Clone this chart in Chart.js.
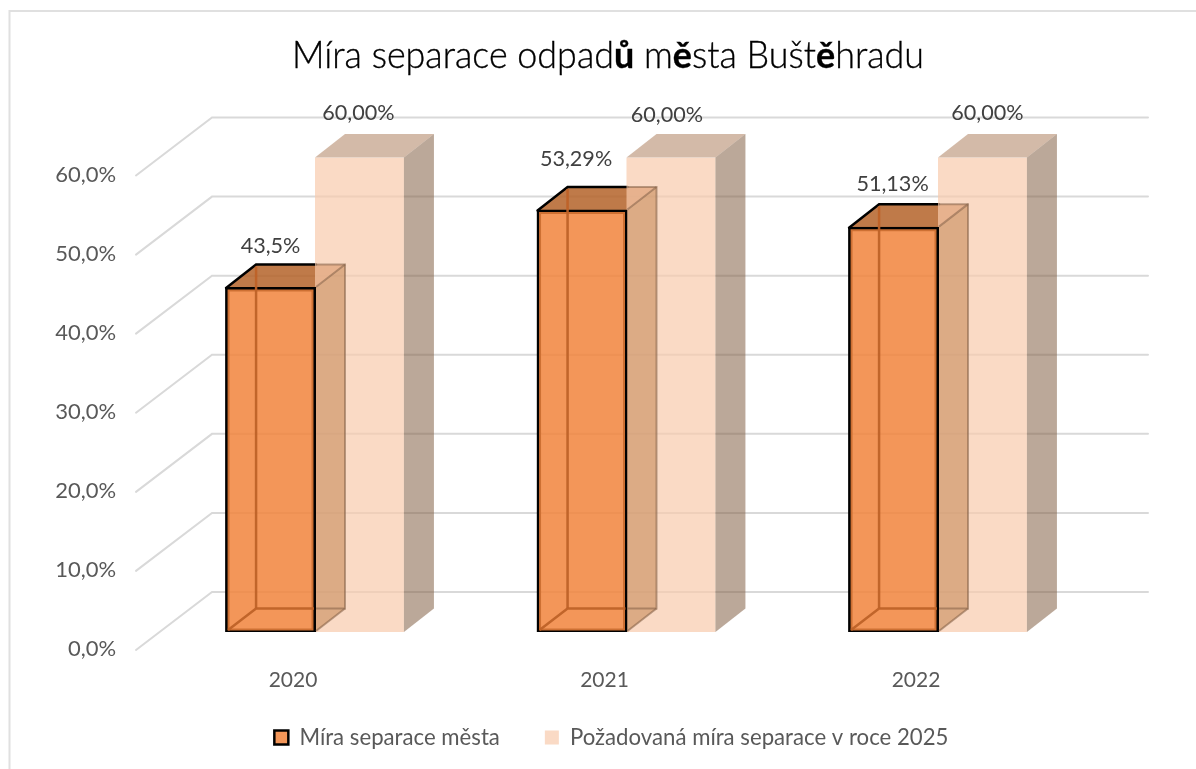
<!DOCTYPE html>
<html lang="cs">
<head>
<meta charset="utf-8">
<title>Míra separace odpadů města Buštěhradu</title>
<script src="https://cdn.jsdelivr.net/npm/chart.js@4"></script>
<style>
    html, body { margin: 0; background: #fff; }
    canvas { display: block; }
</style>
</head>
<body>
<canvas id="chart" width="1196" height="769"></canvas>
<script>
const years = ['2020', '2021', '2022'];
const cityRate = [43.5, 53.29, 51.13];
const targetRate = [60, 60, 60];
const cityLabels = ['43,5%', '53,29%', '51,13%'];
const targetLabels = ['60,00%', '60,00%', '60,00%'];
const seriesNames = ['Míra separace města', 'Požadovaná míra separace v roce 2025'];
const yTicks = [0, 10, 20, 30, 40, 50, 60];

// title pieces, the source font falls back to bold on the Czech letters
const titleParts = [
    ['Míra separace odpad', 300], ['ů', 700], [' m', 300], ['ě', 700],
    ['sta Bušt', 300], ['ě', 700], ['hradu', 300]
];

// hand placed data labels in the original, dx / dy from the bar top
const cityNudge = [[0, -42], [-6, -52], [-1, -44]];
const targetNudge = [[-1, -44], [-4, -42], [5, -44]];

const FONT = 'Lato, sans-serif';
const DX = 30, DY = -23.5; // bar depth
const GRID = '#d9d9d9';
const LEGEND_GAP = 45;

function poly(ctx, pts, fill, stroke, lw) {
    ctx.beginPath();
    pts.forEach((p, i) => i ? ctx.lineTo(p[0], p[1]) : ctx.moveTo(p[0], p[1]));
    if (fill) { ctx.fillStyle = fill; ctx.closePath(); ctx.fill(); }
    if (stroke) { ctx.strokeStyle = stroke; ctx.lineWidth = lw; ctx.stroke(); }
}

function barBox(bar) {
    return { l: bar.x - bar.width / 2, r: bar.x + bar.width / 2, t: bar.y, b: bar.base };
}

// walls and the part of the orange box that sits behind the pink bars
const wallsPlugin = {
    id: 'walls',
    afterLayout(chart) {
        // legend padding also pushes it down, so place the box by hand
        const legend = chart.legend;
        legend.top = 726.5 - LEGEND_GAP;
        legend.left += 39.5;
        legend.right += 39.5;
    },
    beforeDatasetsDraw(chart) {
        const { ctx, scales: { y } } = chart;
        ctx.save();
        ctx.lineCap = 'round';
        yTicks.forEach(v => {
            const py = y.getPixelForValue(v);
            poly(ctx, [[136, py + 18], [212, py - 40], [1148, py - 40]], null, GRID, 2);
        });
        chart.getDatasetMeta(0).data.forEach(bar => {
            const { l, r, t } = barBox(bar);
            poly(ctx, [[l, t], [r, t], [r + DX, t + DY], [l + DX, t + DY]], 'rgba(180,99,41,.85)');
            poly(ctx, [[l, t], [l + DX, t + DY], [r + 1, t + DY]], null, '#000', 2.5);
        });
        ctx.restore();
    },
    beforeDatasetDraw(chart, args) {
        if (args.index !== 0) return;
        // pink sides go under the orange box
        const { ctx } = chart;
        ctx.save();
        chart.getDatasetMeta(1).data.forEach(bar => {
            const { l, r, t, b } = barBox(bar);
            poly(ctx, [[l, t], [r, t], [r + DX, t + DY], [l + DX, t + DY]], 'rgba(157,102,62,.45)');
            poly(ctx, [[r, t], [r + DX, t + DY], [r + DX, b + DY], [r, b]], 'rgba(131,97,70,.55)');
        });
        chart.getDatasetMeta(0).data.forEach(bar => {
            const { r, t, b } = barBox(bar);
            poly(ctx, [[r, t], [r + DX, t + DY], [r + DX, b + DY], [r, b]], 'rgba(200,140,91,.6)');
        });
        ctx.restore();
    },
    afterDatasetDraw(chart, args) {
        if (args.index !== 0) return;
        const { ctx } = chart;
        ctx.save();
        chart.getDatasetMeta(0).data.forEach(bar => {
            const { l, r, t, b } = barBox(bar);
            const edge = 'rgba(190,98,40,.95)';
            const far = 'rgba(130,95,70,.55)';
            poly(ctx, [[l + DX, t + DY + 2], [l + DX, b + DY]], null, edge, 2.5);
            poly(ctx, [[l + 2, b - 2], [l + DX, b + DY], [r - 1, b + DY]], null, edge, 2.5);
            poly(ctx, [[r + 1, b + DY], [r + DX, b + DY], [r + DX, t + DY], [r + 1, t + DY]], null, far, 2);
            poly(ctx, [[r + 1, t - 1], [r + DX, t + DY]], null, far, 2);
            poly(ctx, [[r + 1, b - 1], [r + DX, b + DY]], null, far, 2);
        });
        ctx.restore();
    }
};

const textPlugin = {
    id: 'texts',
    afterDraw(chart) {
        const { ctx } = chart;
        ctx.save();

        // outer frame, right and bottom sides are off the crop
        poly(ctx, [[9.5, 769], [9.5, 11], [1196, 11]], null, '#e0e0e0', 2);

        // title
        ctx.fillStyle = '#000';
        ctx.strokeStyle = '#000';
        ctx.lineWidth = 0.35;
        ctx.textBaseline = 'alphabetic';
        ctx.textAlign = 'left';
        const titleFont = w => `${w} 37px ${FONT}`;
        let total = 0;
        titleParts.forEach(([s, w]) => { ctx.font = titleFont(w); total += ctx.measureText(s).width; });
        const sx = 632 / total;
        ctx.save();
        ctx.translate(292, 68);
        ctx.scale(sx, 1);
        let tx = 0;
        titleParts.forEach(([s, w]) => {
            ctx.font = titleFont(w);
            ctx.fillText(s, tx, 0);
            ctx.strokeText(s, tx, 0);
            tx += ctx.measureText(s).width;
        });
        ctx.restore();

        // data labels
        ctx.font = `400 21.6px ${FONT}`;
        ctx.fillStyle = '#404040';
        ctx.textAlign = 'center';
        ctx.textBaseline = 'middle';
        [[cityLabels, cityNudge], [targetLabels, targetNudge]].forEach(([labels, nudge], ds) => {
            chart.getDatasetMeta(ds).data.forEach((bar, i) => {
                ctx.fillText(labels[i], bar.x + nudge[i][0], bar.y + nudge[i][1]);
            });
        });
        ctx.restore();
    }
};

new Chart(document.getElementById('chart'), {
    type: 'bar',
    data: {
        labels: years,
        datasets: [
            {
                label: seriesNames[0],
                data: cityRate,
                backgroundColor: 'rgba(241,132,60,.85)',
                borderColor: '#000',
                borderWidth: 2.5,
                borderSkipped: false,
                inflateAmount: 1
            },
            {
                label: seriesNames[1],
                data: targetRate,
                backgroundColor: 'rgba(248,203,173,.7)',
                borderWidth: 0
            }
        ]
    },
    options: {
        responsive: false,
        animation: false,
        layout: { padding: { left: 50, right: 102.25, top: 157.5, bottom: 17 } },
        datasets: { bar: { categoryPercentage: 0.571, barPercentage: 1 } },
        plugins: {
            title: { display: false },
            tooltip: { enabled: false },
            legend: {
                position: 'bottom',
                maxHeight: 60,
                labels: {
                    boxWidth: 14,
                    boxHeight: 14,
                    padding: LEGEND_GAP,
                    color: '#595959',
                    font: { family: FONT, size: 22.2, weight: '400' }
                }
            }
        },
        scales: {
            x: {
                grid: { display: false, drawTicks: false },
                border: { display: false },
                ticks: {
                    color: '#595959',
                    padding: 36,
                    labelOffset: -22,
                    maxRotation: 0,
                    font: { family: FONT, size: 21, weight: '400' }
                },
                afterFit(s) { s.height = 60; }
            },
            y: {
                min: 0,
                max: 60,
                afterBuildTicks(s) { s.ticks = yTicks.map(value => ({ value })); },
                grid: { display: false, drawTicks: false },
                border: { display: false },
                ticks: {
                    color: '#595959',
                    padding: 43,
                    labelOffset: 17,
                    callback: v => v.toFixed(1).replace('.', ',') + '%',
                    font: { family: FONT, size: 22, weight: '400' }
                },
                afterFit(s) { s.width = 109.25; }
            }
        }
    },
    plugins: [wallsPlugin, textPlugin]
});
</script>
</body>
</html>
